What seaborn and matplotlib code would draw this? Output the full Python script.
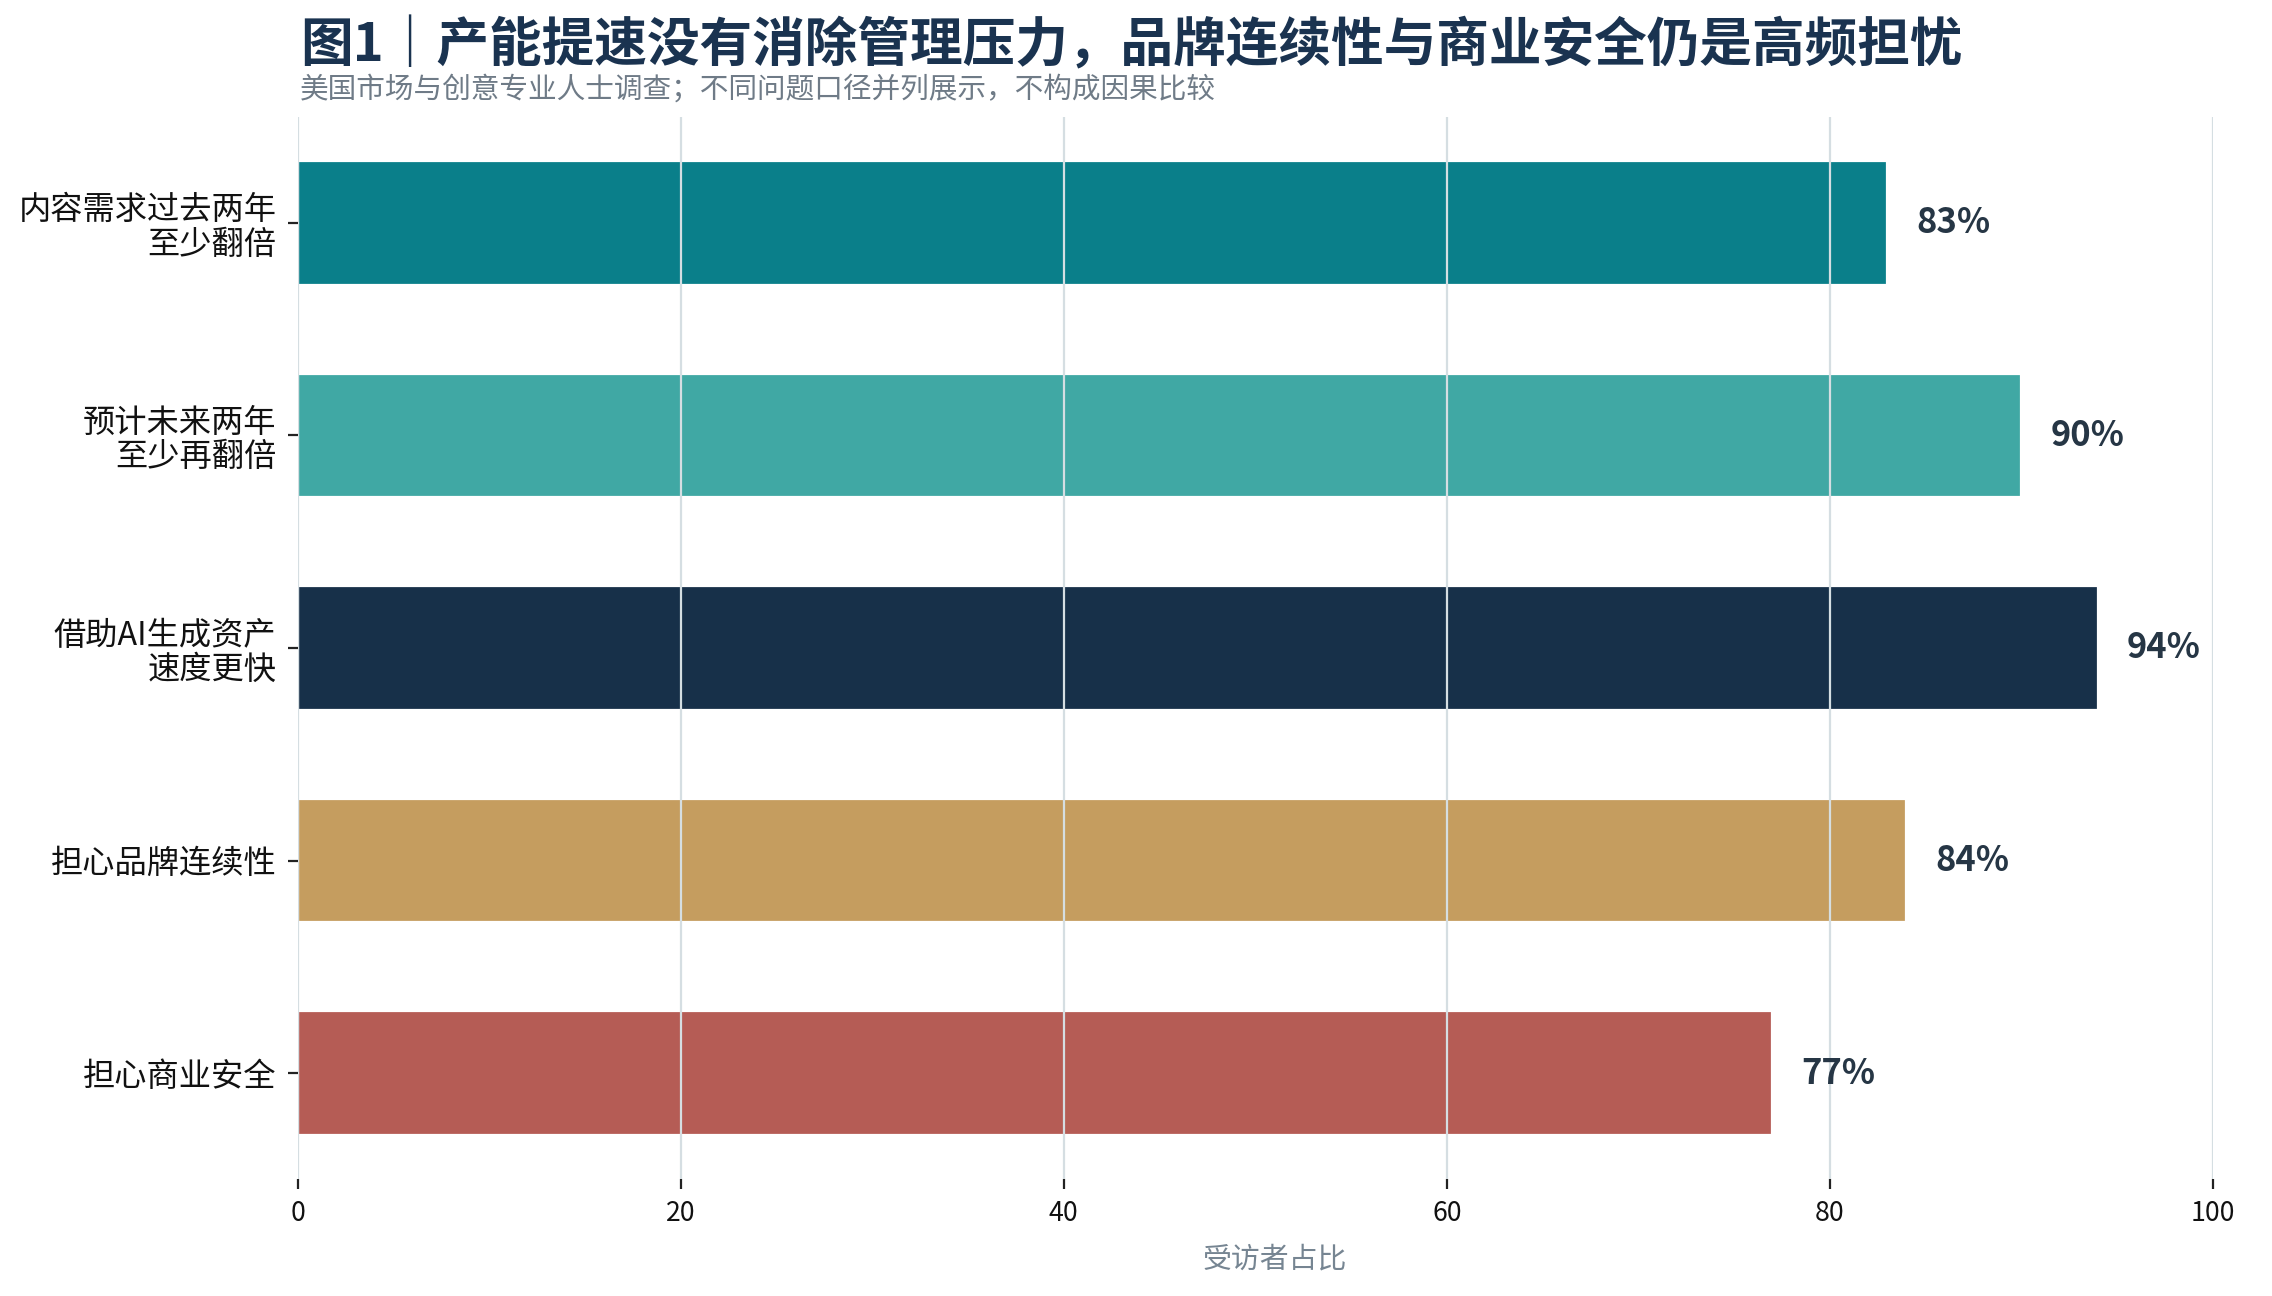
import numpy as np
import pandas as pd
import matplotlib
matplotlib.use("Agg")
import matplotlib.pyplot as plt
import seaborn as sns

# ── data ────────────────────────────────────────────────
categories = ["内容需求过去两年\n至少翻倍",
              "预计未来两年\n至少再翻倍",
              "借助AI生成资产\n速度更快",
              "担心品牌连续性",
              "担心商业安全"]
values     = [83, 90, 94, 84, 77]
colors     = ["#0a7f8a", "#40a8a4", "#173049", "#c59d5f", "#b55c55"]
xticks     = [0, 20, 40, 60, 80, 100]

title    = "图1｜产能提速没有消除管理压力，品牌连续性与商业安全仍是高频担忧"
subtitle = "美国市场与创意专业人士调查；不同问题口径并列展示，不构成因果比较"
xlabel   = "受访者占比"

df = pd.DataFrame({"cat": categories, "val": values})

# ── style ───────────────────────────────────────────────
sns.set_theme(style="white")
plt.rcParams["font.family"] = ["Noto Sans CJK SC", "DejaVu Sans"]
plt.rcParams["axes.unicode_minus"] = False

fig = plt.figure(figsize=(14.2, 8.1), dpi=160)
ax  = fig.add_axes([0.131, 0.090, 0.843, 0.820])

sns.barplot(data=df, y="cat", x="val", hue="cat", palette=colors,
            order=categories, hue_order=categories, legend=False,
            width=0.58, saturation=1, orient="h", ax=ax, zorder=1)

ax.set_xlim(0, 100)
ax.set_ylim(len(categories) - 0.5, -0.5)
ax.set_xticks(xticks)
ax.set_xticklabels([str(t) for t in xticks])

ax.grid(axis="x", color="#d5dee2", lw=1.0, zorder=3)
ax.grid(axis="y", visible=False)
ax.set_axisbelow(False)
for s in ax.spines.values():
    s.set_visible(False)

ax.tick_params(axis="y", left=True, length=4.5, width=1, color="#222222",
               pad=5, labelsize=14.5, labelcolor="#111111")
ax.tick_params(axis="x", bottom=True, length=4.5, width=1, color="#222222",
               pad=5, labelsize=12, labelcolor="#111111")
for lab in ax.get_yticklabels():
    lab.set_linespacing(1.1)
ax.set_ylabel("")
ax.set_xlabel(xlabel, fontsize=13, color="#768592", va="center")
ax.xaxis.set_label_coords(0.510, -0.075)

for cont in ax.containers:
    ax.bar_label(cont, labels=[f"{v:.0f}%" for v in cont.datavalues],
                 padding=13, fontsize=15.5, fontweight="bold", color="#263645")

fig.text(0.132, 0.965, title, fontsize=23.7, fontweight="bold",
         color="#1a3350", ha="left", va="center")
fig.text(0.132, 0.931, subtitle, fontsize=12.9, color="#6f7b87",
         ha="left", va="center")

plt.savefig("out.png", dpi=160)
plt.close()
